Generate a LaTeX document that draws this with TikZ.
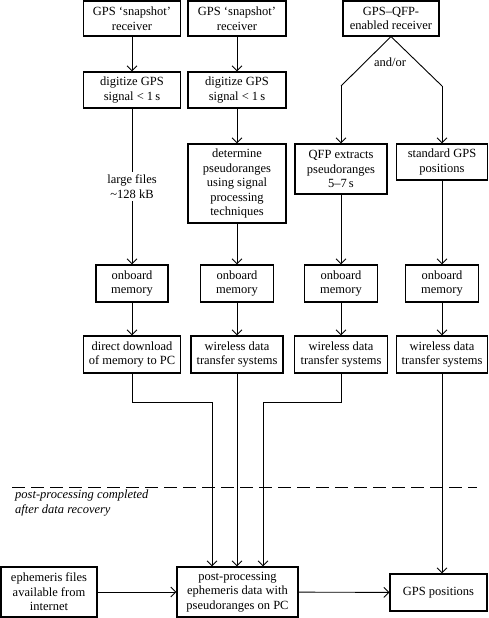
\documentclass[tikz,border=0pt]{standalone}
\usepackage{fontspec}
\setmainfont{Liberation Serif}
\usetikzlibrary{arrows.meta}
\begin{document}
\begin{tikzpicture}[
        x=1pt, y=-1pt,
        font=\fontsize{12.5}{14.5}\selectfont
    ]
    \tikzset{
        mybox/.style = {rectangle, draw=black, line width=1.1pt, align=center, inner sep=1pt},
        myarrow/.style = {-{Straight Barb[length=5pt,width=10pt]}, line width=0.9pt},
        mylabel/.style = {midway, fill=white, align=center, inner sep=3pt},
        mydashes/.style = {line width=0.9pt, dash pattern=on 13pt off 6pt},
    }
    \useasboundingbox (0,0) rectangle (488,618);
    \node[mybox, minimum width=97pt, minimum height=35pt] at (132,18.5) (rcvA) {GPS ‘snapshot’\\receiver};
    \node[mybox, minimum width=98pt, minimum height=35pt] at (237,18.5) (rcvB) {GPS ‘snapshot’\\receiver};
    \node[mybox, minimum width=96pt, minimum height=35pt] at (391,18.5) (rcvC) {GPS–QFP-\\enabled receiver};
    \node[mybox, minimum width=97pt, minimum height=36pt] at (132,90) (digA) {digitize GPS\\signal < 1\,s};
    \node[mybox, minimum width=98pt, minimum height=36pt] at (237,90) (digB) {digitize GPS\\signal < 1\,s};
    \node[mybox, minimum width=98pt, minimum height=79pt] at (237,183.5) (detB) {determine\\pseudoranges\\using signal\\processing\\techniques};
    \node[mybox, minimum width=92pt, minimum height=50pt] at (341,169) (qfpC) {QFP extracts\\pseudoranges\\5–7\,s};
    \node[mybox, minimum width=91pt, minimum height=36pt] at (442,162) (stdD) {standard GPS\\positions};
    %
    \node[mybox, minimum width=72pt, minimum height=37pt] at (132,283.5) (memA) {onboard\\memory};
    \node[mybox, minimum width=73pt, minimum height=37pt] at (237,283.5) (memB) {onboard\\memory};
    \node[mybox, minimum width=73pt, minimum height=37pt] at (341,283.5) (memC) {onboard\\memory};
    \node[mybox, minimum width=73pt, minimum height=37pt] at (442,283.5) (memD) {onboard\\memory};
    %
    \node[mybox, minimum width=97pt, minimum height=37pt] at (132,354.5) (dlA) {direct download\\of memory to PC};
    \node[mybox, minimum width=92pt, minimum height=37pt] at (237,354.5) (wlB) {wireless data\\transfer systems};
    \node[mybox, minimum width=93pt, minimum height=37pt] at (341,354.5) (wlC) {wireless data\\transfer systems};
    \node[mybox, minimum width=91pt, minimum height=37pt] at (442,354.5) (wlD) {wireless data\\transfer systems};
    %
    \node[mybox, minimum width=96pt, minimum height=50pt] at (49,592) (eph) {ephemeris files\\available from\\internet};
    \node[mybox, minimum width=121pt, minimum height=50pt] at (237.5,592) (post) {post-processing\\ephemeris data with\\pseudoranges on PC};
    \node[mybox, minimum width=97pt, minimum height=37pt] at (438.5,592.5) (gps) {GPS positions};
    %
    \coordinate (splitL) at (341,86);
    \coordinate (splitR) at (442,86);
    \coordinate (joinA) at (212,402);
    \coordinate (joinC) at (263,402);
    \coordinate (dashL) at (12,487);
    \coordinate (dashR) at (477,487);
    %
    \draw[myarrow] (rcvA) -- (digA);
    \draw[myarrow] (digA) -- (memA) node[mylabel] {large files\\\textasciitilde128 kB};
    \draw[myarrow] (memA) -- (dlA);
    \draw[myarrow] (dlA.south) |- (joinA) -- (joinA |- post.north);
    %
    \draw[myarrow] (rcvB) -- (digB);
    \draw[myarrow] (digB) -- (detB);
    \draw[myarrow] (detB) -- (memB);
    \draw[myarrow] (memB) -- (wlB);
    \draw[myarrow] (wlB) -- (wlB |- post.north);
    %
    \draw[line width=0.9pt] (rcvC.south) -- (splitL);
    \draw[line width=0.9pt] (rcvC.south) -- (splitR);
    \node at (390,62) (andor) {and/or};
    \draw[myarrow] (splitL) -- (splitL |- qfpC.north);
    \draw[myarrow] (splitR) -- (splitR |- stdD.north);
    \draw[myarrow] (qfpC) -- (memC);
    \draw[myarrow] (memC) -- (wlC);
    \draw[myarrow] (wlC.south) |- (joinC) -- (joinC |- post.north);
    %
    \draw[myarrow] (stdD) -- (memD);
    \draw[myarrow] (memD) -- (wlD);
    \draw[myarrow] (wlD.south) -- (wlD.south |- gps.north);
    %
    \draw[mydashes] (dashL) -- (dashR);
    \node[anchor=north west, inner sep=0pt, align=left, font=\fontsize{12.5}{14.5}\selectfont\itshape] at (15,490) (note) {post-processing completed\\after data recovery};
    %
    \draw[myarrow] (eph) -- (post);
    \draw[myarrow] (post) -- (gps);
\end{tikzpicture}
\end{document}
